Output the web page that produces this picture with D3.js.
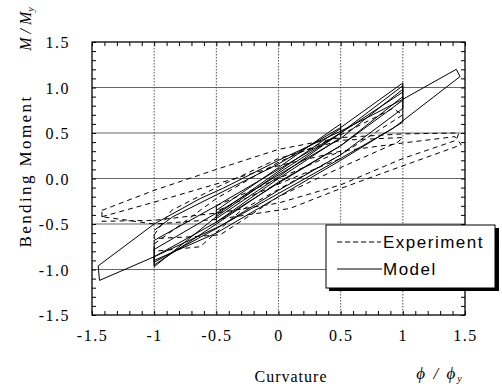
<!DOCTYPE html>
<html><head><meta charset="utf-8">
<script src="https://cdn.jsdelivr.net/npm/d3@7"></script>
<style>
html,body{margin:0;padding:0;background:#fff;}
svg{display:block;}
</style></head>
<body>
<svg id="chart" width="502" height="386"></svg>
<script>
// ---- data ----
const curvatureTicks = [-1.5, -1, -0.5, 0, 0.5, 1, 1.5];
const momentTicks = [-1.5, -1.0, -0.5, 0.0, 0.5, 1.0, 1.5];
const gridX = [-1, -0.5, 0, 0.5, 1];
const gridY = [-1.0, -0.5, 0.0, 0.5, 1.0];
const minorTicks = d3.range(-15, 16).map(d => d / 10);

// Model (solid) loops: [curvature, moment]
const modelOuter = [[-1.45,-0.96],[-1.0,-0.5],[-0.63,-0.22],[-0.45,-0.11],[0,0.2],[0.5,0.52],[1.0,0.87],[1.43,1.2],[1.46,1.12],[0.92,0.55],[0.41,0.15],[-0.45,-0.51],[-1.0,-0.86],[-1.44,-1.12],[-1.45,-0.96]];
const modelCycle1 = [[-1.0,-0.57],[-0.85,-0.42],[-0.5,-0.18],[0,0.16],[0.5,0.56],[1.0,1.05],[1.0,0.95],[0.5,0.5],[0,0.06],[-0.5,-0.42],[-1.0,-0.97]];
const modelCycle2 = [[-1.0,-0.97],[-1.0,-0.68],[-0.5,-0.3],[0,0.1],[0.5,0.5],[1.0,1.02],[1.0,0.86],[0.5,0.36],[0,-0.04],[-0.5,-0.5],[-1.0,-0.95]];
const modelCycle3 = [[-1.0,-0.95],[-1.0,-0.78],[-0.5,-0.38],[0,0.04],[0.5,0.44],[1.0,0.98],[1.0,0.77],[0.5,0.26],[0,-0.13],[-0.5,-0.55],[-1.0,-0.92]];
const modelCycle4 = [[-1.0,-0.92],[-1.0,-0.86],[-0.5,-0.48],[0,-0.05],[0.5,0.36],[1.0,0.9],[1.0,0.62],[0.5,0.2],[0,-0.2],[-0.5,-0.6],[-1.0,-0.9]];
const modelSmall1 = [[-0.5,-0.4],[0,0.08],[0.5,0.55],[0.5,0.45],[0,0.0],[-0.5,-0.48],[-0.5,-0.4]];
const modelSmall2 = [[-0.5,-0.35],[0,0.12],[0.5,0.6],[0.5,0.5],[0,0.02],[-0.5,-0.44],[-0.5,-0.35]];

// Experiment (dashed) loops
const expSmall = [[-0.5,-0.3],[0,0.0],[0.5,0.3],[0.5,0.22],[0,-0.06],[-0.5,-0.36],[-0.5,-0.3]];
const expCycle1 = [[-1.0,-0.72],[-0.5,-0.22],[0,0.18],[0.5,0.48],[0.92,0.77],[1.0,0.7],[0.5,0.26],[0,-0.12],[-0.3,-0.35],[-0.63,-0.75],[-1.0,-0.8],[-1.0,-0.72]];
const expCycle2 = [[-1.0,-0.62],[-0.86,-0.35],[-0.5,-0.1],[0,0.22],[0.5,0.42],[1.0,0.45],[0.96,0.4],[0.5,0.12],[0,-0.2],[-0.47,-0.62],[-0.7,-0.64],[-1.0,-0.66],[-1.0,-0.62]];
const expOuter1 = [[-1.42,-0.35],[-1.0,-0.13],[-0.5,0.1],[0,0.32],[0.5,0.45],[1.0,0.49],[1.45,0.5],[1.43,0.42],[1.0,0.22],[0.5,-0.07],[0,-0.27],[-0.5,-0.38],[-1.0,-0.46],[-1.42,-0.47],[-1.42,-0.35]];
const expOuter2 = [[-1.42,-0.42],[-1.0,-0.26],[-0.5,-0.06],[0,0.14],[0.5,0.3],[1.0,0.39],[1.42,0.46],[1.47,0.37],[0.9,0.09],[0.5,-0.11],[0.09,-0.33],[-0.5,-0.45],[-1.0,-0.5],[-1.42,-0.42]];

const modelSeries = [modelOuter, modelCycle1, modelCycle2, modelCycle3, modelCycle4, modelSmall1, modelSmall2];
const expSeries = [expSmall, expCycle1, expCycle2, expOuter1, expOuter2];

// ---- layout ----
const L = 92, R = 465, T = 42, B = 315;
const x = d3.scaleLinear().domain([-1.5, 1.5]).range([L, R]);
const y = d3.scaleLinear().domain([-1.5, 1.5]).range([B, T]);
const svg = d3.select("#chart");
const serif = "'Liberation Serif','Times New Roman',serif";
const sans = "'Liberation Sans',Arial,Helvetica,sans-serif";

// grid
svg.append("g").selectAll("line").data(gridY).join("line")
  .attr("x1", L).attr("x2", R).attr("y1", d => y(d)).attr("y2", d => y(d))
  .attr("stroke", "#666").attr("stroke-width", 1.2);
svg.append("g").selectAll("line").data(gridX).join("line")
  .attr("x1", d => x(d)).attr("x2", d => x(d)).attr("y1", T).attr("y2", B)
  .attr("stroke", "#555").attr("stroke-width", 1).attr("stroke-dasharray", "1.5,1.5");

// minor ticks (inward) via axes
function tickAxis(axis, tx, ty) {
  const g = svg.append("g").attr("transform", `translate(${tx},${ty})`)
    .call(axis.tickValues(minorTicks).tickSize(-4).tickFormat(""));
  g.select(".domain").remove();
  g.selectAll("line").attr("stroke", "#000").attr("stroke-width", 1);
}
tickAxis(d3.axisBottom(x), 0, B);
tickAxis(d3.axisTop(x), 0, T);
tickAxis(d3.axisLeft(y), L, 0);
tickAxis(d3.axisRight(y), R, 0);

// frame
svg.append("rect").attr("x", L).attr("y", T).attr("width", R - L).attr("height", B - T)
  .attr("fill", "none").attr("stroke", "#000").attr("stroke-width", 1.3);

// tick labels
const xl = svg.append("g").attr("transform", `translate(0,${B + 12})`)
  .call(d3.axisBottom(x).tickValues(curvatureTicks).tickSize(0).tickFormat(d => String(d)));
xl.select(".domain").remove();
xl.attr("font-family", null).attr("font-size", null);
xl.selectAll("text").style("font-family", serif).style("font-size", "16px")
  .style("letter-spacing", "1.5px").attr("fill", "#000");
const yl = svg.append("g").attr("transform", `translate(${L - 19},0)`)
  .call(d3.axisLeft(y).tickValues(momentTicks).tickSize(0).tickFormat(d => d.toFixed(1)));
yl.select(".domain").remove();
yl.attr("font-family", null).attr("font-size", null);
yl.selectAll("text").style("font-family", serif).style("font-size", "16px")
  .style("letter-spacing", "1.5px").attr("fill", "#000").attr("dy", "0.35em");

// data lines
const line = d3.line().x(d => x(d[0])).y(d => y(d[1]));
svg.append("g").selectAll("path").data(expSeries).join("path")
  .attr("d", line).attr("fill", "none").attr("stroke", "#000").attr("stroke-width", 1)
  .attr("stroke-dasharray", "5,4");
svg.append("g").selectAll("path").data(modelSeries).join("path")
  .attr("d", line).attr("fill", "none").attr("stroke", "#000").attr("stroke-width", 1);

// axis titles
svg.append("text").attr("x", 291).attr("y", 382).attr("text-anchor", "middle")
  .style("font-family", serif).style("font-size", "16px").style("letter-spacing", "1px").text("Curvature");
const phi = svg.append("text").attr("x", 440).attr("y", 379).attr("text-anchor", "middle")
  .style("font-family", serif).style("font-size", "17px").style("font-style", "italic")
  .style("letter-spacing", "2px");
phi.append("tspan").text("ϕ / ϕ");
phi.append("tspan").style("font-size", "10px").attr("dy", 3).text("y");

svg.append("text").attr("transform", "translate(31,171) rotate(-90)").attr("text-anchor", "middle")
  .style("font-family", serif).style("font-size", "17px").style("letter-spacing", "2.4px").text("Bending Moment");
const mm = svg.append("text").attr("transform", "translate(31,29) rotate(-90)").attr("text-anchor", "middle")
  .style("font-family", serif).style("font-size", "16px").style("font-style", "italic");
mm.append("tspan").text("M / M");
mm.append("tspan").style("font-size", "10px").attr("dy", 3).text("y");

// legend
const lg = svg.append("g");
lg.append("rect").attr("x", 329).attr("y", 228).attr("width", 170).attr("height", 63).attr("fill", "#000");
lg.append("rect").attr("x", 326).attr("y", 225).attr("width", 169).attr("height", 63)
  .attr("fill", "#fff").attr("stroke", "#000").attr("stroke-width", 1);
lg.append("line").attr("x1", 337).attr("x2", 381).attr("y1", 242).attr("y2", 242)
  .attr("stroke", "#000").attr("stroke-width", 1.2).attr("stroke-dasharray", "5,3");
lg.append("line").attr("x1", 337).attr("x2", 382).attr("y1", 269).attr("y2", 269)
  .attr("stroke", "#000").attr("stroke-width", 1);
lg.append("text").attr("x", 383).attr("y", 248).style("font-family", sans).style("font-size", "17px")
  .style("letter-spacing", "1.5px").text("Experiment");
lg.append("text").attr("x", 383).attr("y", 275).style("font-family", sans).style("font-size", "17px")
  .style("letter-spacing", "1.5px").text("Model");
</script>
</body></html>
